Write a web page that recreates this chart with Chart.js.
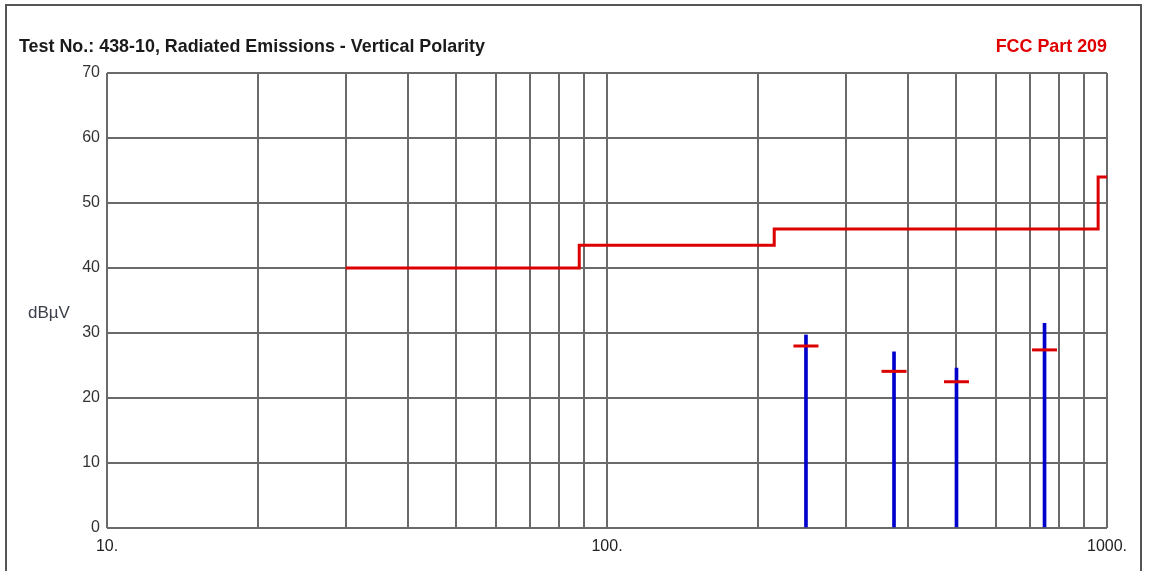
<!DOCTYPE html>
<html>
<head>
<meta charset="utf-8">
<title>Radiated Emissions - Vertical Polarity</title>
<script src="https://cdn.jsdelivr.net/npm/chart.js@4/dist/chart.umd.min.js"></script>
<style>
  html, body { margin: 0; padding: 0; background: #ffffff; }
  #wrap { position: relative; width: 1157px; height: 571px; }
  canvas { display: block; }
</style>
</head>
<body>
<div id="wrap"><canvas id="chart" width="1157" height="571"></canvas></div>
<script>
// Frequency grid (MHz) and level axis (dBµV)
const gridFreqs = [10, 20, 30, 40, 50, 60, 70, 80, 90, 100, 200, 300, 400, 500, 600, 700, 800, 900, 1000];
const labelledFreqs = [10, 100, 1000];
const levelTicks = [0, 10, 20, 30, 40, 50, 60, 70];

// FCC Part 209 limit steps (start frequency, level)
const limitFreqs = [30, 88, 216, 960, 1000];
const limitLevels = [40, 43.5, 46, 54, 54];

// Measured emissions: peak spikes and quasi-peak markers
const emissionFreqs = [250, 375, 500, 750];
const peakLevels = [29.7, 27.1, 24.6, 31.5];
const quasiPeakLevels = [28.0, 24.1, 22.5, 27.4];

const titleText = 'Test No.: 438-10, Radiated Emissions - Vertical Polarity';
const limitText = 'FCC Part 209';
const unitText = 'dBµV';

const FONT = '"Liberation Sans", Arial, sans-serif';

// Frame, headings and the unit label
const decorations = {
  id: 'decorations',
  beforeDraw(chart) {
    const ctx = chart.ctx;
    ctx.save();
    ctx.fillStyle = '#ffffff';
    ctx.fillRect(0, 0, chart.width, chart.height);
    ctx.strokeStyle = '#555555';
    ctx.lineWidth = 2;
    ctx.beginPath();
    ctx.moveTo(6, chart.height + 2);
    ctx.lineTo(6, 5);
    ctx.lineTo(1141, 5);
    ctx.lineTo(1141, chart.height + 2);
    ctx.stroke();
    ctx.restore();
  },
  afterDraw(chart) {
    const ctx = chart.ctx;
    ctx.save();
    ctx.textBaseline = 'alphabetic';
    ctx.font = 'bold 17.9px ' + FONT;
    ctx.fillStyle = '#1a1a1a';
    ctx.textAlign = 'left';
    ctx.fillText(titleText, 19, 52);
    ctx.fillStyle = '#e00000';
    ctx.textAlign = 'right';
    ctx.fillText(limitText, 1107, 52);
    ctx.font = '17px ' + FONT;
    ctx.fillStyle = '#3a3f4a';
    ctx.textAlign = 'left';
    ctx.fillText(unitText, 28, 318);
    ctx.restore();
  }
};

const limitData = limitFreqs.map((f, i) => ({ x: f, y: limitLevels[i] }));
const peakData = emissionFreqs.map((f, i) => ({ x: f, y: peakLevels[i] }));
const qpData = emissionFreqs.map((f, i) => ({ x: f, y: quasiPeakLevels[i] }));

new Chart(document.getElementById('chart'), {
  type: 'bar',
  data: {
    datasets: [
      {
        type: 'scatter',
        label: 'Quasi-peak',
        data: qpData,
        pointStyle: 'line',
        radius: 12.5,
        hoverRadius: 12.5,
        borderWidth: 3,
        borderColor: '#dd0000',
        backgroundColor: '#dd0000',
        order: 0
      },
      {
        type: 'line',
        label: limitText,
        data: limitData,
        stepped: 'before',
        borderColor: '#dd0000',
        borderWidth: 3,
        pointRadius: 0,
        fill: false,
        order: 1
      },
      {
        type: 'bar',
        label: 'Peak',
        data: peakData,
        backgroundColor: '#0000cc',
        barThickness: 3,
        order: 2
      }
    ]
  },
  options: {
    responsive: false,
    animation: false,
    events: [],
    layout: { padding: { top: 73, right: 50, left: 0, bottom: 0 } },
    plugins: { legend: { display: false }, tooltip: { enabled: false } },
    scales: {
      x: {
        type: 'logarithmic',
        min: 10,
        max: 1000,
        offset: false,
        afterBuildTicks(scale) {
          scale.ticks = gridFreqs.map(v => ({ value: v }));
        },
        afterFit(scale) { scale.height = 43; },
        grid: { color: '#6a6a6a', lineWidth: 2, drawTicks: false, offset: false },
        border: { display: false },
        ticks: {
          autoSkip: false,
          maxRotation: 0,
          padding: 9,
          color: '#222222',
          font: { family: FONT, size: 16 },
          callback: (v) => labelledFreqs.includes(v) ? v + '.' : ''
        }
      },
      y: {
        type: 'linear',
        min: 0,
        max: 70,
        afterBuildTicks(scale) {
          scale.ticks = levelTicks.map(v => ({ value: v }));
        },
        afterFit(scale) { scale.width = 107; },
        grid: { color: '#6a6a6a', lineWidth: 2, drawTicks: false },
        border: { display: false },
        ticks: {
          padding: 7,
          color: '#333333',
          font: { family: FONT, size: 16 }
        }
      }
    }
  },
  plugins: [decorations]
});
</script>
</body>
</html>
